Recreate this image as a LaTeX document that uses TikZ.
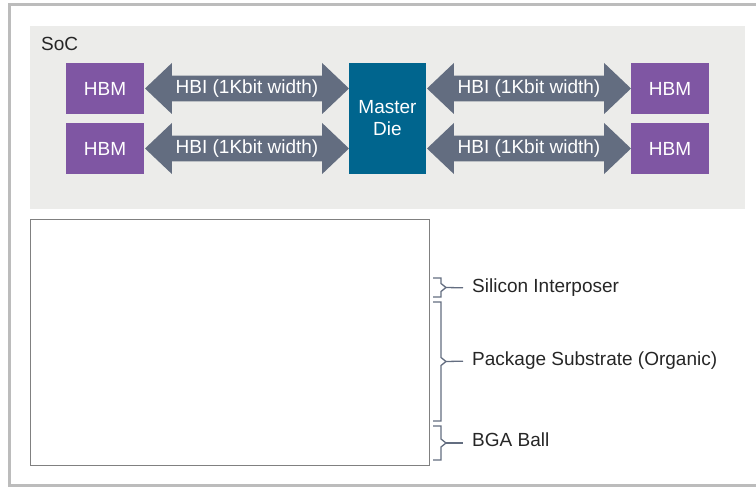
\documentclass[tikz,border=0pt]{standalone}
\usepackage{fontspec}
\setmainfont{Liberation Sans}
\usetikzlibrary{shapes.arrows, positioning}
\definecolor{hbmpurple}{RGB}{127,86,163}
\definecolor{diecyan}{RGB}{0,101,142}
\definecolor{hbislate}{RGB}{99,109,128}
\definecolor{socgray}{RGB}{236,236,234}
\definecolor{framegray}{RGB}{188,188,188}
\tikzset{every node/.style={font=\fontsize{19}{22}\selectfont},
         hbm/.style={fill=hbmpurple,text=white,minimum width=78pt,minimum height=51pt,inner sep=0pt},
         die/.style={fill=diecyan,text=white,minimum width=77pt,minimum height=111pt,inner sep=0pt,align=center},
         hbi/.style={double arrow,fill=hbislate,text=white,inner sep=0pt,minimum height=204pt,minimum width=51pt,
                     double arrow head extend=9pt,double arrow tip angle=87},
         bracket/.style={draw=hbislate,line width=1.3pt},
         layer/.style={anchor=west,inner sep=0pt,text=black!85}}

\begin{document}
\begin{tikzpicture}[x=1pt,y=-1pt]
        \useasboundingbox (0,0) rectangle (756,487);
        \draw[framegray,line width=3pt](770,5)--(9.5,5)--(9.5,485)--(770,485);

        % SoC area
        \fill[socgray](30,26)rectangle(745,209);
        \node[anchor=west,inner sep=0pt,text=black!85](soc)at(41,44){SoC};

        \node[die](die)at(387.5,118.5){Master\\Die};
        \node[hbm](hbm1)at(105,88.5){HBM};
        \node[hbm](hbm2)at(105,148.5){HBM};
        \node[hbm](hbm3)at(670,88.5){HBM};
        \node[hbm](hbm4)at(670,148.5){HBM};

        \node[hbi](hbi1)at(247,88.5){HBI (1Kbit width)};
        \node[hbi](hbi2)at(247,148.5){HBI (1Kbit width)};
        \node[hbi](hbi3)at(529,88.5){HBI (1Kbit width)};
        \node[hbi](hbi4)at(529,148.5){HBI (1Kbit width)};

        % package stack
        \draw[black!50,line width=1pt](30,219)rectangle(429,465);

        \coordinate(tip1)at(446,287.5);
        \coordinate(tip2)at(446,361.5);
        \coordinate(tip3)at(446,443);
        \node[layer](si)at(472,288){Silicon Interposer};
        \node[layer](sub)at(472,361){Package Substrate (Organic)};
        \node[layer](bga)at(472,440){BGA Ball};

        \draw[bracket](433,278)--(441,278)--(441,283.5)--(tip1)--(441,291.5)--(441,297)--(433,297);
        \draw[bracket](433,302)--(441,302)--(441,357.5)--(tip2)--(441,365.5)--(441,421)--(433,421);
        \draw[bracket](433,426)--(441,426)--(441,439)--(tip3)--(441,447)--(441,460)--(433,460);
        \draw[bracket,shorten >=9pt](tip1)--(si.west);
        \draw[bracket,shorten >=9pt](tip2)--(sub.west);
        \draw[bracket,shorten >=9pt](tip3)--(tip3-|bga.west);
    \end{tikzpicture}
\end{document}
